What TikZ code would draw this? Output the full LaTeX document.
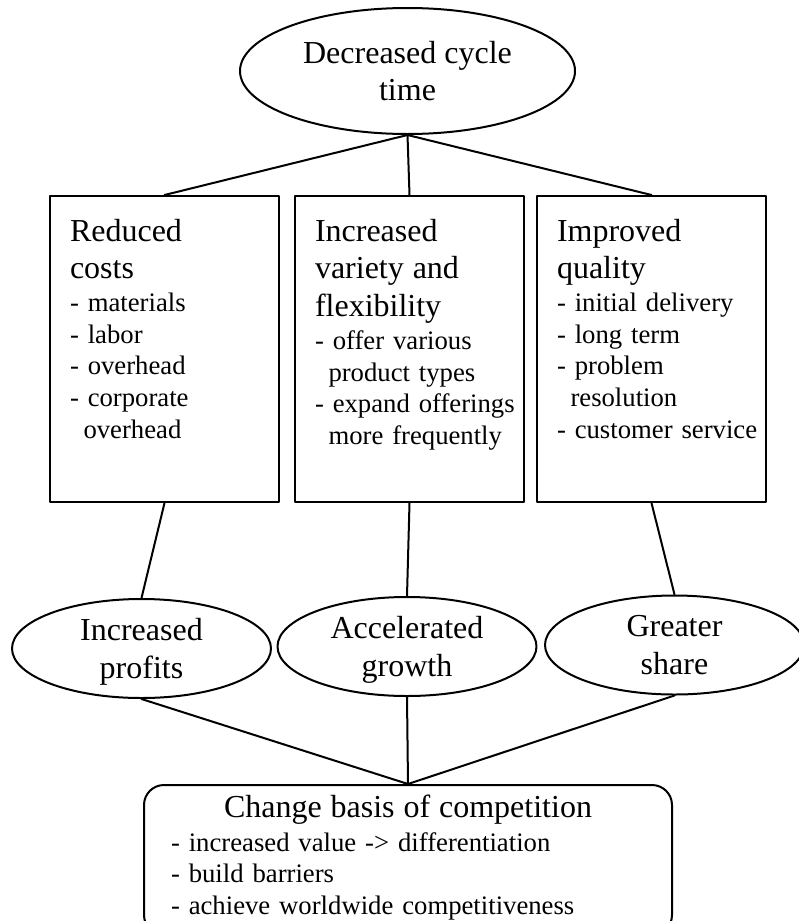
\documentclass[tikz,border=0pt]{standalone}
\usepackage{fontspec}
\setmainfont{Liberation Serif}
\usetikzlibrary{shapes.geometric}
\newcommand{\bigfont}{\fontsize{32}{37.7}\selectfont}
\newcommand{\smallfont}{\fontsize{26.7}{31.6}\selectfont}
\newcommand{\ind}{\hspace*{13.5pt}}
\begin{document}
\begin{tikzpicture}[x=1pt,y=-1pt,line join=round,line cap=round,line width=2pt]
		\tikzset{oval/.style={ellipse,draw,font=\bigfont,align=center,inner sep=0pt,text depth=0pt,minimum width=259pt,minimum height=99pt},
			panel/.style={rectangle,draw,font=\smallfont,align=left,inner xsep=20pt,inner ysep=0pt,text width=189pt,text height=45pt,text depth=261pt},
			basisbox/.style={rectangle,draw,rounded corners=20pt,font=\smallfont,align=left,inner xsep=27pt,inner ysep=0pt,text width=474pt,text height=32pt,text depth=118pt}}
		\useasboundingbox (0,0) rectangle (799,921);
		\node[oval,minimum width=335pt,minimum height=126pt] (cycle) at (407.5,71) {Decreased cycle\\time};
		\node[panel] (costs) at (164.5,349) {\bigfont Reduced\\costs\\[1.4pt]
			\smallfont - materials\\- labor\\- overhead\\- corporate\\\ind overhead};
		\node[panel] (variety) at (409.5,349) {\bigfont Increased\\variety and\\flexibility\\[1.4pt]
			\smallfont - offer various\\\ind product types\\\mbox{- expand offerings}\\\ind more frequently};
		\node[panel] (quality) at (651.5,349) {\bigfont Improved\\quality\\[1.4pt]
			\smallfont - initial delivery\\- long term\\- problem\\\ind resolution\\\mbox{- customer service}};
		\node[oval] (profits) at (141.5,648.5) {Increased\\profits};
		\node[oval] (growth) at (407,646.5) {Accelerated\\growth};
		\node[oval] (share) at (674.5,645) {Greater\\share};
		\node[basisbox] (basis) at (408,860) {\makebox[\linewidth]{\bigfont Change basis of competition}\\[2.4pt]
			- increased value -> differentiation\\- build barriers\\- achieve worldwide competitiveness};
		\foreach \b in {costs,variety,quality}
		\draw (cycle.south)--(\b.north);
		\foreach \b/\e in {costs/profits,variety/growth,quality/share}
		\draw (\b.south)--(\e.north);
		\foreach \e in {profits,growth,share}
		\draw (\e.south)--(basis.north);
		
		\end{tikzpicture}
\end{document}
